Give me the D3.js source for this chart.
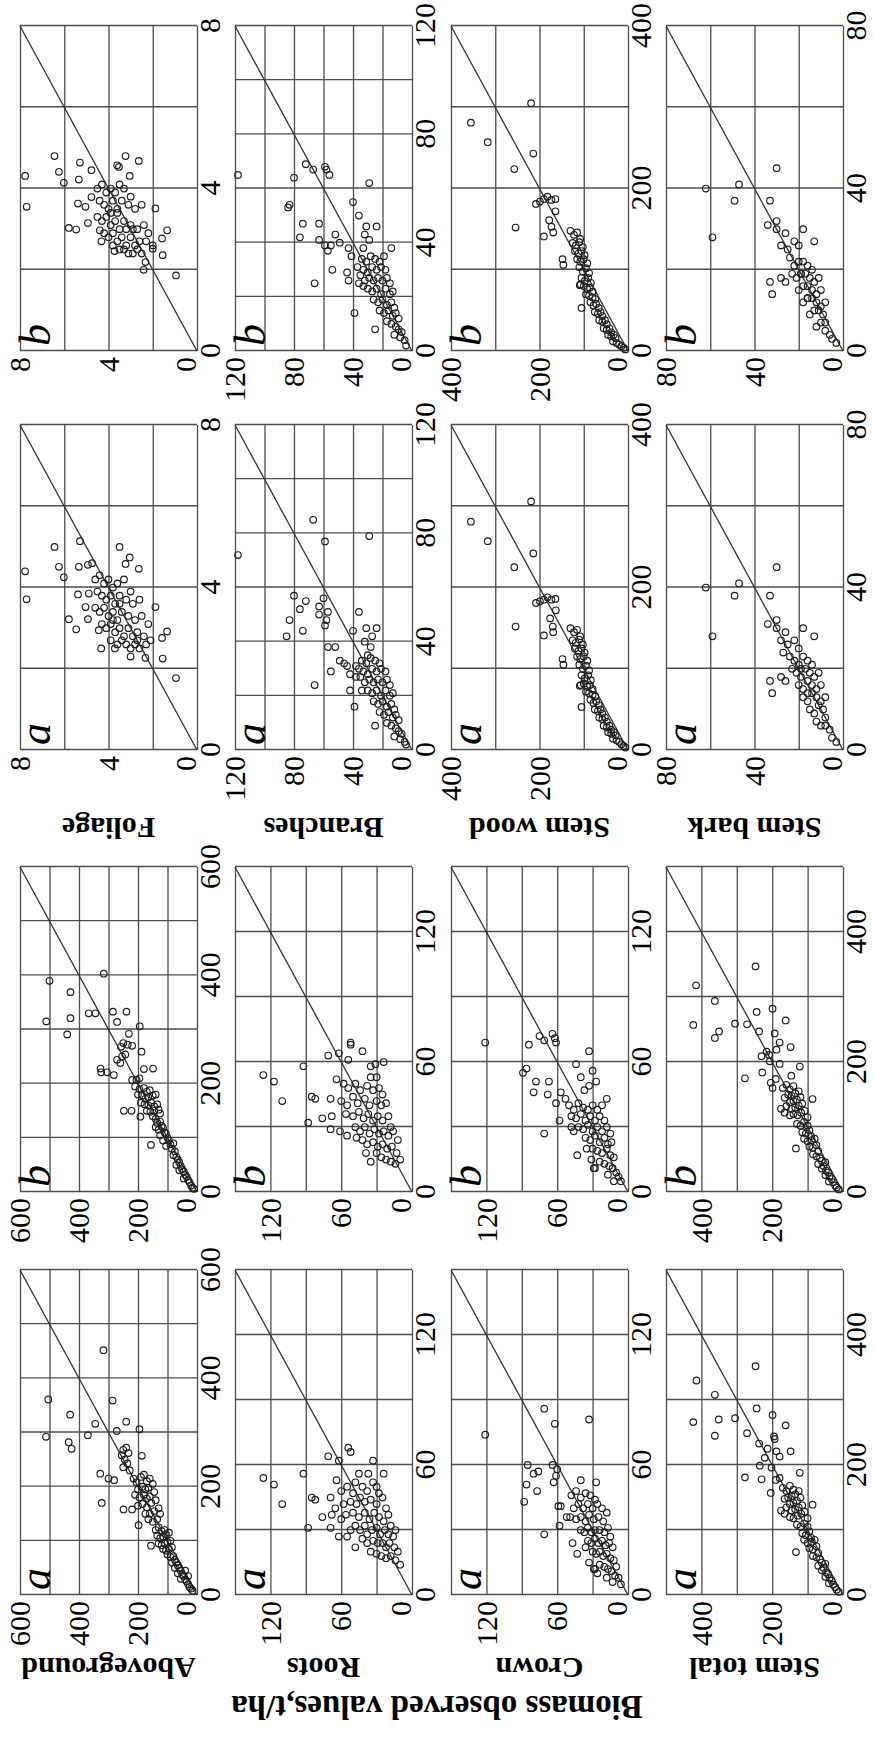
<!DOCTYPE html>
<html><head><meta charset="utf-8">
<script src="https://cdn.jsdelivr.net/npm/d3@7"></script>
<style>body{margin:0;background:#fff}</style>
</head><body>
<svg id="c" width="874" height="1742" xmlns="http://www.w3.org/2000/svg"></svg>
<script>
// ---- data: each point is [observed, predicted] (t/ha) ----
const aboveA = [[317,452],[504,361],[512,292],[430,333],[435,282],[425,270],[370,295],[345,316],[286,359],[240,320],[195,306],[272,303],[250,268],[240,272],[232,262],[255,258],[245,250],[187,257],[236,243],[250,236],[228,230],[328,224],[300,215],[281,212],[323,170],[249,158],[220,158],[198,129],
[215,215],[205,208],[190,218],[180,222],[170,210],[160,215],[200,195],[185,200],[175,195],[165,198],[150,205],[210,185],[195,180],[180,185],[170,178],[160,182],[145,190],[200,165],[185,168],[170,162],[155,170],[140,175],[175,150],[160,150],[145,155],[130,160],[165,140],[150,135],[135,140],[125,150],
[156,91],[140,120],[130,125],[120,118],[110,120],[135,110],[125,105],[115,108],[105,112],[95,115],[130,95],[120,92],[110,95],[100,98],[90,100],[115,85],[105,82],[95,85],[85,88],
[100,75],[90,70],[80,72],[75,65],[85,60],[70,60],[65,55],[75,50],[60,50],[55,45],[65,40],[50,38],[45,35],[55,30],[40,28],[35,25],[30,20],[25,15],[20,12],[15,8],[40,45],[30,35]];
const aboveB = [[316,403],[500,390],[429,369],[511,315],[429,321],[440,291],[367,330],[344,330],[285,333],[239,333],[271,314],[194,306],[231,292],[250,275],[235,272],[220,270],[258,268],[188,259],[254,250],[243,254],[271,244],[260,238],[327,228],[305,221],[282,216],[325,221],[180,227],[149,228],[220,207],[205,207],[195,210],
[210,195],[195,190],[180,192],[170,185],[160,188],[200,180],[185,178],[175,172],[165,175],[150,178],[140,180],[190,165],[178,162],[165,160],[155,165],[145,158],[135,162],[170,150],[158,148],[145,150],[130,152],[125,145],[248,150],[222,150],[192,139],[156,87],
[150,140],[140,135],[135,128],[125,130],[120,122],[140,120],[130,115],[115,118],[110,110],[125,105],[105,108],[100,100],[115,95],[95,95],[90,88],[105,85],[80,90],
[85,80],[75,75],[80,68],[70,65],[65,60],[60,55],[70,50],[55,48],[50,42],[60,40],[45,38],[40,32],[35,28],[45,25],[30,22],[25,18],[20,12],[15,8],[10,6]];
const rootsA = [[126,54],[117,51],[110,42],[92,56],[88,31],[85,45],[82,44],[76,36],[71,64],[69,45],[68,37],[69,31],[62,62],[64,53],[62,27],[55,27],[54,68],[52,66],[33,62],[24,56],[45,56],[37,56],[33,52],
[60,48],[55,50],[50,47],[48,52],[42,50],[38,48],[30,50],[28,47],[58,42],[52,43],[47,42],[44,45],[40,43],[35,44],[30,42],[25,45],[22,40],[56,37],[50,38],[45,36],[40,38],[36,35],[32,38],[28,36],[24,34],[20,37],[18,32],[48,32],[44,30],[40,32],[38,28],[34,30],[30,31],[27,28],[23,30],[20,28],[16,27],[14,30],[42,26],[38,24],[33,25],[29,24],[25,24],[22,22],[19,24],[15,22],[12,20],[35,20],[30,19],[26,18],[22,17],[18,18],[14,16],[10,14],[48,22],[52,30],[60,35],[65,40]];
const rootsB = [[126,54],[117,51],[110,42],[92,58],[88,32],[85,44],[82,43],[76,34],[71,63],[69,43],[68,35],[69,29],[62,64],[64,52],[61,28],[55,26],[52,69],[52,68],[42,65],[54,61],[35,58],[31,59],[24,60],[35,53],[30,53],
[58,50],[54,48],[48,50],[44,47],[38,49],[33,47],[28,48],[25,45],[60,42],[55,40],[50,44],[46,41],[40,43],[36,40],[30,42],[26,40],[22,41],[56,36],[50,35],[45,37],[41,34],[37,36],[33,33],[29,35],[25,33],[20,35],[18,30],[48,30],[44,28],[40,30],[36,27],[32,29],[28,27],[24,28],[20,26],[16,28],[12,24],[42,24],[38,22],[33,23],[29,21],[25,22],[21,20],[17,21],[13,18],[10,15],[30,18],[26,16],[22,15],[18,14],[14,13],[47,25],[39,18],[35,14]];
const crownA = [[121,74],[71,86],[62,79],[33,81],[85,60],[86,51],[88,43],[80,56],[76,57],[77,48],[64,60],[61,55],[63,52],[60,58],[71,28],[59,41],[57,41],[58,32],[52,36],[49,36],[47,24],[43,19],[40,53],[27,52],[29,12],[28,12],
[48,46],[44,48],[40,45],[36,47],[32,46],[28,44],[46,40],[42,42],[38,40],[34,42],[30,40],[26,42],[22,40],[44,35],[40,36],[36,34],[33,37],[29,35],[25,36],[21,34],[18,38],[40,30],[37,29],[34,31],[31,29],[28,30],[24,30],[20,29],[17,31],[15,27],[34,25],[31,24],[28,26],[25,24],[22,25],[19,23],[16,24],[13,22],[30,20],[27,19],[24,20],[21,18],[18,19],[15,17],[12,16],[10,13],[24,14],[20,13],[17,12],[14,11],[11,9],[8,8],[6,5],[18,8],[13,6],[36,22],[33,15],[26,10]];
const crownB = [[121,69],[84,68],[75,72],[71,70],[64,73],[62,71],[61,69],[33,65],[89,55],[86,57],[78,51],[67,51],[80,46],[68,45],[57,46],[53,43],[61,41],[44,59],[40,53],[30,56],[27,51],[33,49],[37,47],[18,43],[58,33],[71,27],[48,30],[46,28],[43,17],[29,11],[28,11],
[50,40],[46,38],[42,41],[38,39],[34,38],[30,40],[26,38],[22,40],[48,35],[44,34],[40,36],[36,33],[32,35],[28,33],[24,35],[20,33],[42,30],[38,29],[34,31],[30,28],[26,30],[22,28],[18,30],[15,27],[36,25],[32,24],[28,26],[24,23],[20,25],[17,22],[14,23],[30,20],[26,19],[22,18],[18,20],[15,17],[12,16],[24,14],[20,13],[16,12],[13,11],[10,9],[8,7],[6,5],[17,8],[12,5],[35,20],[31,15]];
const stemTotA = [[247,352],[414,330],[362,308],[423,266],[351,270],[362,245],[305,272],[271,249],[244,287],[199,277],[162,261],[195,244],[193,240],[237,233],[213,225],[221,211],[188,221],[179,213],[148,221],[235,199],[230,178],[277,181],[202,196],[190,177],[179,180],[204,157],[122,188],[86,139],[133,66],
[170,165],[160,160],[150,168],[140,162],[155,150],[145,152],[135,155],[125,160],[165,148],[150,140],[140,142],[130,145],[120,150],[160,135],[145,130],[135,132],[125,135],[115,138],[175,130],[150,120],[140,118],[128,122],[118,125],[108,128],[165,125],[100,118],
[130,108],[120,105],[110,110],[100,105],[115,95],[105,92],[95,98],[90,88],[110,85],[100,80],[88,82],[80,85],[95,72],[85,70],[75,75],[70,65],[85,60],[75,58],[65,55],[60,50],[70,45],[55,42],[50,48],[60,38],[48,35],[42,32],[50,28],[38,26],[32,22],[40,18],[28,16],[22,12],[18,8],[12,5]];
const stemTotB = [[247,347],[415,318],[362,294],[423,257],[305,259],[271,258],[244,277],[199,282],[162,264],[362,237],[350,247],[237,247],[193,244],[179,230],[148,223],[216,216],[209,211],[188,219],[230,209],[207,201],[179,197],[277,175],[228,184],[204,168],[199,160],[190,174],[122,193],[146,179],[86,143],[133,67],
[170,160],[160,165],[150,158],[140,163],[155,150],[145,148],[135,152],[125,155],[165,145],[150,138],[140,140],[130,142],[120,146],[160,132],[145,128],[135,130],[125,133],[115,136],[175,128],[150,118],[140,120],[128,118],[118,122],[108,125],[165,122],[100,115],
[130,105],[120,102],[110,108],[100,102],[115,92],[105,90],[95,95],[90,86],[110,82],[100,78],[88,80],[80,82],[95,70],[85,68],[75,72],[70,63],[85,58],[75,55],[65,52],[60,48],[70,43],[55,40],[50,46],[60,36],[48,33],[42,30],[50,26],[38,24],[32,20],[40,16],[28,15],[22,10],[18,7],[12,4]];
const foliageA = [[7.77,4.40],[7.70,3.71],[6.44,5.00],[6.24,4.51],[6.02,4.25],[5.29,5.14],[5.34,4.51],[4.93,4.56],[4.74,4.60],[5.79,3.22],[5.46,2.97],[5.38,3.83],[5.04,3.52],[4.93,3.22],[4.89,3.85],[4.44,2.95],[4.33,2.50],[3.71,2.50],[3.50,5.00],[3.23,4.58],[3.04,4.74],[2.63,4.46],[2.33,2.27],[1.88,3.52],[1.55,2.25],[0.95,1.77],[1.58,2.76],[1.35,2.92],
[4.6,4.2],[4.4,4.3],[4.2,4.1],[4.0,4.2],[3.8,4.0],[3.6,4.1],[3.3,4.2],[3.0,3.9],[4.5,3.9],[4.3,3.8],[4.1,3.7],[3.9,3.8],[3.7,3.6],[3.5,3.8],[3.2,3.7],[2.9,3.6],[2.6,3.7],[4.6,3.5],[4.4,3.4],[4.2,3.5],[4.0,3.3],[3.8,3.4],[3.6,3.2],[3.4,3.4],[3.1,3.3],[2.8,3.2],[2.5,3.3],[2.2,3.1],[4.3,3.1],[4.1,3.0],[3.9,3.1],[3.7,2.9],[3.5,3.0],[3.3,2.8],[3.1,3.0],[2.9,2.8],[2.7,2.9],[2.4,2.8],[2.1,2.7],[3.9,2.7],[3.6,2.6],[3.4,2.7],[3.2,2.6],[3.0,2.5],[2.8,2.6],[2.6,2.5],[2.3,2.6],[3.0,2.3],[2.7,2.7],[3.5,3.6],[3.8,3.2]];
const foliageB = [[7.77,4.31],[7.70,3.55],[6.44,4.80],[6.24,4.41],[6.02,4.14],[5.29,4.64],[5.34,4.22],[4.77,4.45],[5.79,3.03],[5.46,2.99],[5.38,3.63],[5.04,3.55],[4.93,3.15],[4.77,3.79],[4.39,2.97],[4.32,2.70],[3.73,2.46],[3.23,4.80],[2.63,4.68],[3.61,4.57],[3.53,4.53],[3.04,4.31],[1.88,3.51],[2.33,2.19],[2.41,2.00],[1.55,2.36],[2.0,2.52],[0.95,1.86],[1.58,2.77],[1.35,2.97],
[4.5,4.0],[4.3,4.1],[4.1,3.9],[3.9,4.0],[3.7,3.9],[3.5,4.1],[3.3,4.0],[3.0,3.8],[4.4,3.7],[4.2,3.6],[4.0,3.5],[3.8,3.7],[3.6,3.5],[3.4,3.7],[3.1,3.6],[2.8,3.5],[2.5,3.6],[4.5,3.3],[4.3,3.2],[4.1,3.3],[3.9,3.1],[3.7,3.2],[3.5,3.0],[3.3,3.2],[3.0,3.1],[2.7,3.0],[2.4,3.1],[2.2,2.9],[4.2,2.9],[4.0,2.8],[3.8,2.9],[3.6,2.7],[3.4,2.8],[3.2,2.6],[3.0,2.8],[2.8,2.6],[2.6,2.7],[2.3,2.7],[2.0,2.6],[3.8,2.6],[3.5,2.5],[3.3,2.5],[3.1,2.4],[2.9,2.4],[2.7,2.5],[2.5,2.4],[3.6,3.4],[3.9,3.4],[3.2,3.0],[2.9,3.0]];
const branchA = [[118,72],[67,85],[59,77],[29,79],[80,57],[76,52],[72,55],[83,48],[85,42],[74,44],[63,53],[63,50],[60,56],[57,51],[58,48],[59,46],[36,51],[40,44],[31,45],[24,45],[57,38],[52,38],[55,29],[49,33],[46,32],[44,31],[42,28],[38,27],[66,24],[42,22],[34,22],[39,16],[25,9],[32,40],[28,38],[30,35],[27,42],
[34,33],[31,32],[28,34],[25,33],[22,32],[33,29],[30,28],[27,30],[24,29],[21,30],[18,29],[32,25],[29,26],[26,25],[23,26],[20,25],[17,26],[15,24],[30,22],[27,21],[24,22],[21,20],[18,22],[15,20],[13,21],[26,18],[23,17],[20,18],[17,16],[14,17],[12,15],[22,14],[19,13],[16,14],[13,12],[11,13],[9,11],[17,10],[14,9],[11,8],[9,7],[7,6],[12,5],[8,4],[5,3],[4,2],[36,30],[35,27],[38,31]];
const branchB = [[118,65],[80,64],[72,69],[67,67],[59,68],[56,65],[58,67],[29,62],[84,53],[83,54],[74,47],[76,42],[63,47],[63,41],[59,39],[55,39],[57,37],[52,43],[40,55],[36,50],[31,46],[24,46],[32,43],[29,41],[49,40],[43,38],[41,35],[33,38],[54,30],[44,29],[43,26],[66,25],[39,14],[36,25],[33,24],[14,38],[25,8],
[34,34],[31,33],[28,35],[25,34],[22,33],[19,35],[33,30],[30,29],[27,31],[24,30],[21,31],[18,30],[32,26],[29,27],[26,26],[23,27],[20,26],[17,27],[15,25],[30,23],[27,22],[24,23],[21,21],[18,23],[15,21],[13,22],[26,19],[23,18],[20,19],[17,17],[14,18],[12,16],[22,15],[19,14],[16,15],[13,13],[11,14],[9,12],[17,11],[14,10],[11,9],[9,8],[7,7],[12,6],[8,5],[5,4],[4,2],[37,31],[35,28]];
const woodA = [[219,306],[355,281],[317,257],[214,242],[257,225],[254,152],[208,181],[199,183],[190,185],[182,188],[173,185],[164,186],[163,172],[176,162],[170,152],[169,145],[190,141],[148,112],[146,105],[105,53],[109,79],[107,80],
[130,150],[122,145],[115,148],[108,140],[125,135],[118,132],[110,136],[102,130],[120,125],[112,122],[105,125],[98,120],[115,115],[108,112],[100,115],[92,110],[110,105],[102,100],[95,104],[88,98],[105,92],[98,88],[90,92],[84,86],[100,82],[92,78],[86,80],[80,75],[95,72],[88,70],[80,68],[74,66],[85,62],[78,58],[72,60],[66,55],[75,50],[68,48],[62,50],[58,45],[65,40],[58,38],[52,40],[48,35],[55,30],[48,28],[42,30],[38,25],[45,22],[38,20],[32,22],[28,18],[34,14],[26,12],[20,10],[15,7],[10,5],[6,3]];
const woodB = [[219,305],[355,281],[317,257],[214,243],[257,224],[254,152],[208,181],[199,184],[190,187],[182,190],[173,186],[164,187],[164,172],[178,161],[173,153],[169,146],[190,141],[148,113],[146,106],[105,53],[109,81],[107,82],
[130,148],[122,143],[115,146],[108,138],[125,133],[118,130],[110,134],[102,128],[120,123],[112,120],[105,123],[98,118],[115,113],[108,110],[100,113],[92,108],[110,103],[102,98],[95,102],[88,96],[105,90],[98,86],[90,90],[84,84],[100,80],[92,76],[86,78],[80,73],[95,70],[88,68],[80,66],[74,64],[85,60],[78,56],[72,58],[66,53],[75,48],[68,46],[62,48],[58,43],[65,38],[58,36],[52,38],[48,33],[55,28],[48,26],[42,28],[38,23],[45,20],[38,18],[32,20],[28,16],[34,12],[26,10],[20,8],[15,6],[10,4],[6,2]];
const barkA = [[30,45],[62,40],[47,41],[49,38],[33,38],[59,28],[34,31],[30,32],[30,30],[26,29],[18,30],[13,28],[28,27],[25,26],[22,27],[20,25],[27,24],[24,23],[33,17],[32,14],[28,18],[26,17],
[22,22],[20,21],[18,23],[16,22],[14,21],[21,19],[19,18],[17,20],[15,19],[13,18],[11,19],[20,16],[18,15],[16,17],[14,16],[12,15],[10,16],[18,13],[16,12],[14,14],[12,13],[10,12],[8,13],[15,10],[13,9],[11,11],[9,10],[8,8],[12,7],[10,6],[8,6],[6,5],[5,3],[3,2],[16,14],[19,20],[23,20]];
const barkB = [[30,45],[62,40],[47,41],[49,37],[33,37],[59,28],[34,31],[30,32],[30,30],[26,29],[18,30],[13,27],[22,27],[20,26],[25,25],[28,26],[24,23],[33,17],[32,14],[28,18],[26,17],
[22,21],[20,22],[18,22],[16,21],[14,20],[21,18],[19,19],[17,19],[15,18],[13,17],[11,18],[20,15],[18,16],[16,16],[14,15],[12,14],[10,15],[18,12],[16,13],[14,13],[12,12],[10,11],[8,12],[15,9],[13,10],[11,10],[9,9],[8,7],[12,6],[10,7],[8,5],[6,4],[5,3],[3,2],[16,13],[19,19],[23,19]];

const leftNames  = ["Aboveground", "Roots", "Crown", "Stem total"];
const rightNames = ["Foliage", "Branches", "Stem wood", "Stem bark"];
const leftMax   = [600, 150, 150, 500];
const leftStep  = [100, 30, 30, 100];
const leftTicks = [[0,200,400,600],[0,60,120],[0,60,120],[0,200,400]];
const rightMax   = [8, 120, 400, 80];
const rightStep  = [2, 20, 100, 20];
const rightTicks = [[0,4,8],[0,40,80,120],[0,200,400],[0,40,80]];
const leftData  = [[aboveA, aboveB],[rootsA, rootsB],[crownA, crownB],[stemTotA, stemTotB]];
const rightData = [[foliageA, foliageB],[branchA, branchB],[woodA, woodB],[barkA, barkB]];
const panelLetters = ["a", "b"];
const yTitle = "Biomass observed values,t/ha";

// ---- layout (drawn in the figure's own landscape frame, then turned 90° ccw) ----
const svg = d3.select("#c");
const fig = svg.append("g").attr("transform", "translate(0,1742) rotate(-90)");
const colX = [147, 550, 992, 1391], rowY = [20, 235, 451, 666];
const PW = 325, PH = 177;
const FONT = "'Liberation Serif','Times New Roman',serif";

function panel(data, max, step, ticks, letter, x0, y0) {
  const x = d3.scaleLinear().domain([0, max]).range([x0, x0 + PW]);
  const y = d3.scaleLinear().domain([0, max]).range([y0 + PH, y0]);
  const grid = d3.range(0, max + step / 2, step);
  const fmt = d => ticks.includes(d) ? d3.format("d")(d) : "";
  const p = fig.append("g");

  const ax = p.append("g").attr("transform", `translate(0,${y0 + PH})`)
    .call(d3.axisBottom(x).tickValues(grid).tickSize(-PH).tickSizeOuter(0).tickPadding(2).tickFormat(fmt));
  const ay = p.append("g").attr("transform", `translate(${x0},0)`)
    .call(d3.axisLeft(y).tickValues(grid).tickSize(-PW).tickSizeOuter(0).tickPadding(6).tickFormat(fmt));
  [ax, ay].forEach(a => {
    a.select(".domain").remove();
    a.selectAll(".tick line").attr("stroke", "#4d4d4d").attr("stroke-width", 1.3);
    a.selectAll(".tick text").attr("font-family", FONT).attr("font-size", 30).attr("fill", "#000");
  });
  ay.selectAll(".tick text").filter(d => d === 0).attr("y", -11);

  p.append("line").attr("x1", x(0)).attr("y1", y(0)).attr("x2", x(max)).attr("y2", y(max))
    .attr("stroke", "#333").attr("stroke-width", 1.3);

  p.append("g").selectAll("circle").data(data).join("circle")
    .attr("cx", d => x(d[1])).attr("cy", d => y(d[0])).attr("r", 3.3)
    .attr("fill", "none").attr("stroke", "#1e1e1e").attr("stroke-width", 1.15);

  p.append("text").attr("x", x0 + 5).attr("y", y0 + 30).text(letter)
    .attr("font-family", FONT).attr("font-style", "italic").attr("font-size", 44).attr("fill", "#000");
}

for (let r = 0; r < 4; r++) {
  for (let k = 0; k < 2; k++) {
    panel(leftData[r][k], leftMax[r], leftStep[r], leftTicks[r], panelLetters[k], colX[k], rowY[r]);
    panel(rightData[r][k], rightMax[r], rightStep[r], rightTicks[r], panelLetters[k], colX[k + 2], rowY[r]);
  }
  const cy = rowY[r] + PH / 2;
  fig.append("text").attr("transform", `translate(84,${cy}) rotate(-90)`).attr("text-anchor", "middle")
    .attr("font-family", FONT).attr("font-weight", "bold").attr("font-size", 30).text(leftNames[r]);
  fig.append("text").attr("transform", `translate(924,${cy}) rotate(-90)`).attr("text-anchor", "middle")
    .attr("font-family", FONT).attr("font-weight", "bold").attr("font-size", 30).text(rightNames[r]);
}
fig.append("text").attr("transform", "translate(46,437) rotate(-90)").attr("text-anchor", "middle")
  .attr("font-family", FONT).attr("font-weight", "bold").attr("font-size", 33).text(yTitle);
</script>
</body></html>
